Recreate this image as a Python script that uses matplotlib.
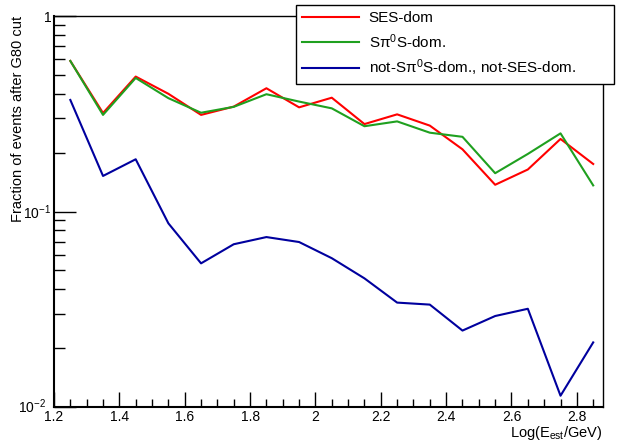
import matplotlib
matplotlib.use("Agg")
import matplotlib.pyplot as plt
from matplotlib.ticker import FixedLocator, FixedFormatter, NullFormatter
from matplotlib.transforms import ScaledTranslation

plt.rcParams['font.family'] = ['Liberation Sans', 'DejaVu Sans']
plt.rcParams['mathtext.fontset'] = 'custom'
plt.rcParams['mathtext.rm'] = 'Liberation Sans'
plt.rcParams['mathtext.it'] = 'Liberation Sans:italic'
plt.rcParams['mathtext.bf'] = 'Liberation Sans:bold'
plt.rcParams['mathtext.default'] = 'regular'

# Bin centres in log10(E_est / GeV)
log_e = [1.25, 1.35, 1.45, 1.55, 1.65, 1.75, 1.85, 1.95, 2.05,
         2.15, 2.25, 2.35, 2.45, 2.55, 2.65, 2.75, 2.85]

ses_dom = [0.589, 0.319, 0.490, 0.400, 0.312, 0.344, 0.427, 0.341, 0.382,
           0.280, 0.314, 0.275, 0.208, 0.137, 0.164, 0.235, 0.175]
spi0s_dom = [0.589, 0.312, 0.482, 0.380, 0.320, 0.343, 0.398, 0.365, 0.337,
             0.273, 0.289, 0.253, 0.241, 0.157, 0.197, 0.251, 0.136]
neither_dom = [0.372, 0.152, 0.185, 0.087, 0.0543, 0.068, 0.074, 0.0698, 0.0577,
               0.0455, 0.0342, 0.0334, 0.0246, 0.0292, 0.0318, 0.01142, 0.0214]

labels = ["SES-dom", "S\u03c0$^{0}$S-dom.", "not-S\u03c0$^{0}$S-dom., not-SES-dom."]
colors = ["#ff0000", "#1fa01f", "#00009e"]

x_ticks = [1.2, 1.4, 1.6, 1.8, 2.0, 2.2, 2.4, 2.6, 2.8]
x_tick_labels = ["1.2", "1.4", "1.6", "1.8", "2", "2.2", "2.4", "2.6", "2.8"]
y_ticks = [0.01, 0.1, 1.0]
y_tick_labels = ["$10^{-2}$", "$10^{-1}$", "1"]

W, H = 626, 445
fig = plt.figure(figsize=(W / 100, H / 100), dpi=100)
ax = fig.add_axes([54 / W, 1 - 407 / H, (603 - 54) / W, (407 - 16) / H])

for ys, lab, c in zip([ses_dom, spi0s_dom, neither_dom], labels, colors):
    ax.plot(log_e, ys, color=c, lw=1.5, label=lab)

ax.set_yscale('log')
ax.set_xlim(1.2, 2.88)
ax.set_ylim(0.01, 1.0)

ax.xaxis.set_major_locator(FixedLocator(x_ticks))
ax.xaxis.set_major_formatter(FixedFormatter(x_tick_labels))
ax.xaxis.set_minor_locator(FixedLocator([1.2 + 0.05 * i for i in range(34)]))
ax.yaxis.set_major_locator(FixedLocator(y_ticks))
ax.yaxis.set_major_formatter(FixedFormatter(y_tick_labels))
ax.yaxis.set_minor_locator(FixedLocator([m * 10.0 ** e for e in (-2, -1) for m in range(2, 10)]))
ax.yaxis.set_minor_formatter(NullFormatter())

ax.tick_params(which='both', direction='in', top=False, right=False,
               labelsize=10, color='black', width=1)
ax.tick_params(axis='x', which='major', length=11, pad=2.5)
ax.tick_params(axis='x', which='minor', length=6)
ax.tick_params(axis='y', which='major', length=16, pad=2)
ax.tick_params(axis='y', which='minor', length=8)

# nudge the bottom y label left so it clears the first x label
bottom_label = ax.yaxis.get_major_ticks()[0].label1
bottom_label.set_transform(bottom_label.get_transform()
                           + ScaledTranslation(-4 / 72, 1 / 72, fig.dpi_scale_trans))

for side in ['left', 'bottom']:
    ax.spines[side].set_linewidth(1.5)
for side in ['top', 'right']:
    ax.spines[side].set_linewidth(1.0)

ax.set_xlabel("Log(E$_{est}$/GeV)", fontsize=10.5, loc='right')
ax.xaxis.set_label_coords(1.0, -0.043)
ax.set_ylabel("Fraction of events after G80 cut", fontsize=10.5, loc='top')
ax.yaxis.set_label_coords(-0.052, 1.0)

leg = ax.legend(loc='upper left', bbox_to_anchor=(296 / W, 1 - 80 / H, (614 - 296) / W, (80 - 5) / H),
                bbox_transform=fig.transFigure, mode='expand', borderaxespad=0,
                fancybox=False, edgecolor='black', framealpha=1, fontsize=11,
                handlelength=3.7, handletextpad=0.65, labelspacing=0.45,
                borderpad=0.4)
leg.get_frame().set_linewidth(1.0)
leg.set_zorder(5)

fig.savefig("out.png", dpi=100)
